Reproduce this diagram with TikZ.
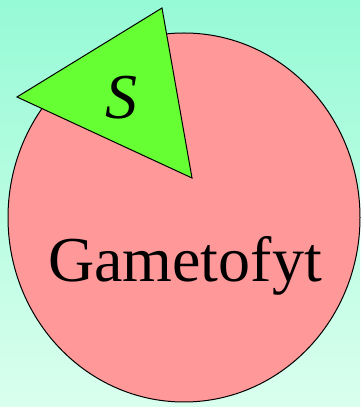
\documentclass[tikz,border=0pt]{standalone}
\usepackage{fontspec}
\setmainfont{Liberation Serif}
\usepackage{tikz}
\usetikzlibrary{
    positioning,
    calc
}
\definecolor{gamebgtop}{RGB}{150,250,214}
\definecolor{gamebgbottom}{RGB}{218,255,238}
\definecolor{gamepink}{RGB}{255,153,153}
\definecolor{gamegreen}{RGB}{102,255,51}

\begin{document}
\begin{tikzpicture}[
    x=1pt,
    y=1pt,
    gametophyte/.style={
        draw=black,
        line width=1pt,
        fill=gamepink
    },
    sporophyte/.style={
        draw=black,
        line width=1pt,
        fill=gamegreen,
        line join=miter
    },
    biglabel/.style={
        font=\fontsize{64}{70}\selectfont,
        inner sep=0pt
    }
]

% background
\shade[top color=gamebgtop, bottom color=gamebgbottom]
    (0,0) rectangle (360,407);
\useasboundingbox (0,0) rectangle (360,407);

\draw[gametophyte] (184,189.5) ellipse [x radius=176, y radius=184.5];

\coordinate (tipA) at (162,399);
\coordinate (tipB) at (17,310);
\coordinate (tipC) at (192,229);
\draw[sporophyte] (tipA) -- (tipB) -- (tipC) -- cycle;

\node[biglabel] (spore) at (121,309) {\textit{S}};

\node[
    biglabel,
    anchor=base
] (gamelabel) at (185,125) {Gametofyt};

\end{tikzpicture}
\end{document}
